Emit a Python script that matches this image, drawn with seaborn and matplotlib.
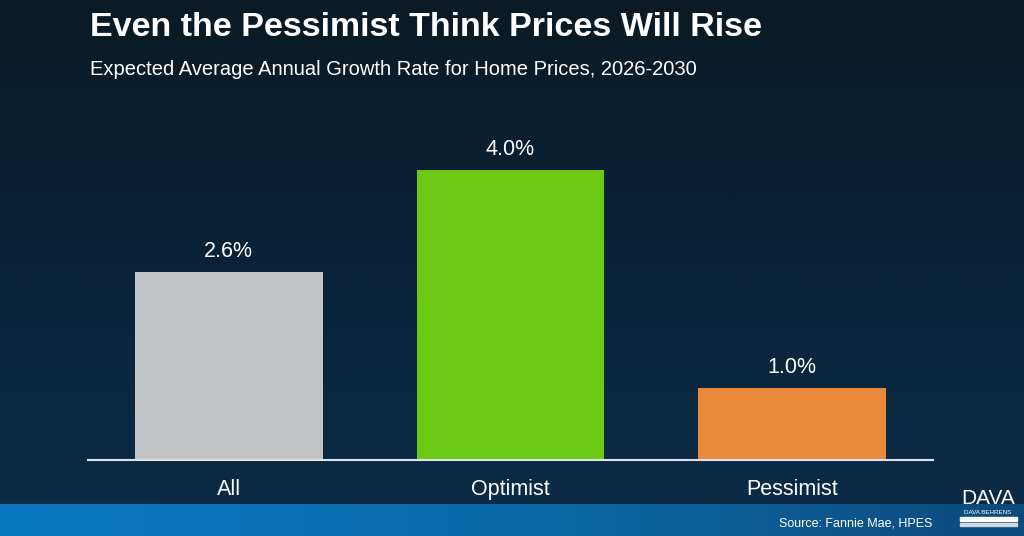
import numpy as np
import pandas as pd
import seaborn as sns
import matplotlib.pyplot as plt
from matplotlib.colors import LinearSegmentedColormap

# data
groups = ['All', 'Optimist', 'Pessimist']
growth = [2.6, 4.0, 1.0]
bar_colors = ['#c0c2c3', '#6cc913', '#ea893a']

sns.set_theme(style='white')
plt.rcParams['font.family'] = ['Liberation Sans', 'DejaVu Sans']

W, H = 1024, 536
fig = plt.figure(figsize=(W / 100, H / 100), dpi=100)

# background: dark navy vertical gradient
bg = fig.add_axes([0, 0, 1, 1], zorder=0)
bg_cmap = LinearSegmentedColormap.from_list('bg', ['#0a1a26', '#0a2338', '#0a2c48'])
grad = np.linspace(0, 1, 256).reshape(-1, 1)
bg.imshow(grad, cmap=bg_cmap, aspect='auto', extent=[0, 1, 0, 1], origin='upper')
# blue strip at the bottom, lighter on the left
strip_cmap = LinearSegmentedColormap.from_list('strip', ['#0a79c2', '#0b6aa8', '#0d4a7c'])
hgrad = np.linspace(0, 1, 256).reshape(1, -1)
bg.imshow(hgrad, cmap=strip_cmap, aspect='auto', extent=[0, 1, 0, 32 / H])
bg.set_xlim(0, 1)
bg.set_ylim(0, 1)
bg.axis('off')

# main bar axes
ax = fig.add_axes([88 / W, 1 - 460 / H, (933 - 88) / W, (460 - 130) / H], zorder=1)
ax.patch.set_alpha(0)
df = pd.DataFrame({'group': groups, 'growth': growth})
sns.barplot(data=df, x='group', y='growth', hue='group', palette=bar_colors,
            width=0.667, saturation=1, legend=False, linewidth=0, ax=ax)
ax.set_xlim(-0.5, 2.5)
ax.set_ylim(0, 330 / 72.5)
for c in ax.containers:
    ax.bar_label(c, labels=[f'{v:.1f}%' for v in c.datavalues], padding=7,
                 color='white', fontsize=15.5)
ax.set_xlabel('')
ax.set_ylabel('')
ax.set_yticks([])
ax.tick_params(axis='x', length=0, pad=14, labelsize=15.5, labelcolor='white')
for s in ['top', 'right', 'left']:
    ax.spines[s].set_visible(False)
ax.spines['bottom'].set_color('#dfe3e8')
ax.spines['bottom'].set_linewidth(1.5)

# titles
fig.text(90 / W, 1 - 28 / H, 'Even the Pessimist Think Prices Will Rise', color='white',
         fontsize=24.5, fontweight='bold', va='center', ha='left')
fig.text(90 / W, 1 - 69 / H, 'Expected Average Annual Growth Rate for Home Prices, 2026-2030',
         color='white', fontsize=14.5, va='center', ha='left')

# source + logo
fig.text(932 / W, 1 - 523 / H, 'Source: Fannie Mae, HPES', color='white',
         fontsize=9, va='center', ha='right')
fig.text(988 / W, 1 - 499 / H, 'DAVA', color='white', fontsize=15, va='center', ha='center')
fig.text(988 / W, 1 - 513 / H, 'DAVA BEHRENS', color='white', fontsize=4.5,
         va='center', ha='center')
fig.patches.append(plt.Rectangle((960 / W, 1 - 521 / H), 57 / W, 4 / H,
                                 transform=fig.transFigure, color='white', zorder=2))
fig.patches.append(plt.Rectangle((960 / W, 1 - 526 / H), 57 / W, 3 / H,
                                 transform=fig.transFigure, color='#cfd6de', zorder=2))

fig.savefig('out.png', dpi=100)
